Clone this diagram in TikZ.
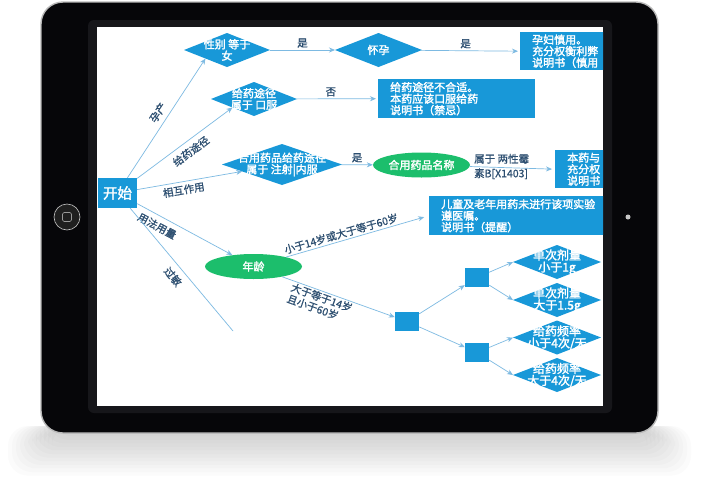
\documentclass[tikz,border=0pt]{standalone}
\usepackage{fontspec}
\setmainfont{Noto Sans CJK SC}
\newfontfamily\cjkbold[FakeBold=2]{Noto Sans CJK SC}
\newfontfamily\cjkmed[FakeBold=0.8]{Noto Sans CJK SC}
\usetikzlibrary{shapes.geometric,arrows.meta}
\definecolor{fblue}{RGB}{24,152,216}
\definecolor{fgreen}{RGB}{28,190,108}
\definecolor{fline}{RGB}{125,186,226}
\definecolor{flabel}{RGB}{44,78,112}
\definecolor{bezel}{RGB}{6,6,9}
\definecolor{bezelin}{RGB}{22,22,26}
\begin{document}
\begin{tikzpicture}[x=1pt,y=-1pt,
  dia/.style={diamond, fill=fblue, inner sep=0pt, outer sep=0pt},
  sbox/.style={rectangle, fill=fblue, text=white, inner sep=0pt},
  sqbox/.style={rectangle, fill=fblue, minimum width=24pt, minimum height=19pt, inner sep=0pt},
  oval/.style={ellipse, fill=fgreen, text=white, inner sep=0pt, minimum width=97pt, minimum height=25pt, font=\cjkbold\fontsize{11}{12}\selectfont},
  wtext/.style={text=white, align=center, font=\cjkbold\fontsize{11}{11.5}\selectfont, inner sep=0pt},
  wtextb/.style={wtext, font=\cjkbold\fontsize{12}{12}\selectfont},
  infobox/.style={rectangle, fill=fblue, text=white, align=left, anchor=north west, inner xsep=12pt, inner ysep=0pt, font=\cjkbold\fontsize{11}{11.5}\selectfont},
  lbl/.style={text=flabel, font=\cjkmed\fontsize{10.5}{12}\selectfont, inner sep=1pt},
  conn/.style={draw=fline, line width=0.7pt},
  arr/.style={conn, -{Stealth[length=6pt,width=5pt]}},
]
\useasboundingbox (0,0) rectangle (710,488);
% shadow
\foreach \i in {0,...,11}{
  \fill[black,opacity=0.016,rounded corners=20pt] ({52-4*\i},426) rectangle ({647+4*\i},{436+3.6*\i});
}
% tablet body
\filldraw[fill=bezel, draw=gray!55, line width=1.4pt, rounded corners=22pt] (41,2) rectangle (658,433);
\fill[bezelin, rounded corners=6pt] (88,20) rectangle (612,413);
\fill[white] (97,27) rectangle (603,406);
% home button
\fill[black!88] (67,217) circle (13);
\draw[gray!45, line width=0.6pt] (67,217) circle (13);
\draw[gray!80, line width=0.6pt, rounded corners=1.5pt] (62.5,212.5) rectangle (71.5,221.5);
% camera
\fill[gray!45] (628,217) circle (2.5);

\begin{scope}
\clip (97,27) rectangle (603,406);
\node[sbox, minimum width=39pt, minimum height=30pt, font=\cjkbold\fontsize{14.5}{15}\selectfont] (start) at (117.5,193) {开始};
\node[dia, minimum width=86pt, minimum height=34pt, label={[wtext]center:{性别 等于\\女}}] (sex) at (227,50) {};
\node[dia, minimum width=87pt, minimum height=34pt, label={[wtext]center:怀孕}] (preg) at (378.5,50) {};
\node[infobox, text width=110pt, minimum height=38pt] (b1) at (520,32) {孕妇慎用。\\充分权衡利弊\\说明书（慎用};
\node[dia, minimum width=86pt, minimum height=34pt, label={[wtext]center:{给药途径\\属于 口服}}] (oral) at (254,99) {};
\node[infobox, text width=133pt, minimum height=39pt] (b2) at (378,79) {给药途径不合适。\\本药应该口服给药\\说明书（禁忌）};
\node[dia, minimum width=120pt, minimum height=41pt, label={[wtext]center:{合用药品给药途径\\属于 注射|内服}}] (inter) at (282,164.5) {};
\node[oval] (name) at (421.5,165) {合用药品名称};
\node[infobox, text width=110pt, minimum height=38pt] (b3) at (555,150) {本药与\\充分权\\说明书};
\node[infobox, text width=200pt, minimum height=39pt] (kid) at (429,196) {儿童及老年用药未进行该项实验\\遵医嘱。\\说明书（提醒）};
\node[oval] (age) at (253.5,266.5) {年龄};
\node[sqbox] (sq1) at (407,321.5) {};
\node[sqbox] (sq2) at (477,277.5) {};
\node[sqbox] (sq3) at (477,352.5) {};
\node[dia, minimum width=88pt, minimum height=34pt, label={[wtextb]center:{单次剂量\\小于1g}}] (dA) at (557,262) {};
\node[dia, minimum width=88pt, minimum height=34pt, label={[wtextb]center:{单次剂量\\大于1.5g}}] (dB) at (557,300) {};
\node[dia, minimum width=88pt, minimum height=34pt, label={[wtextb]center:{给药频率\\小于4次/天}}] (dC) at (557,337.5) {};
\node[dia, minimum width=88pt, minimum height=34pt, label={[wtextb]center:{给药频率\\大于4次/天}}] (dD) at (557,375) {};
\coordinate (allergyEnd) at (233,331);

\draw[arr] (start) -- node[lbl, sloped, above=4pt] (t1) {孕产} (sex.south west);
\draw[arr] (start) -- node[lbl, sloped, below=4pt] (t2) {给药途径} (oral.south west);
\draw[arr] (start) -- node[lbl, sloped, below=2pt, pos=0.43] (t3) {相互作用} (inter);
\draw[arr] (start) -- node[lbl, sloped, below=4pt, pos=0.26] (t4) {用法用量} (age);
\draw[conn] (start) -- node[lbl, sloped, below=5pt] (t5) {过敏} (allergyEnd);
\draw[arr] (sex) -- node[lbl, above=1pt] (y1) {是} (preg);
\draw[arr, shorten >=2pt] (preg) -- node[lbl, above=1pt, pos=0.45] (y2) {是} (b1.west);
\draw[arr, shorten >=2pt] (oral) -- node[lbl, above=1pt, pos=0.42] (n1) {否} (b2.west);
\draw[arr] (inter) -- node[lbl, above=1pt] (y3) {是} (name);
\draw[arr, shorten >=3pt] (name) -- node[lbl, anchor=west, align=left, pos=0, xshift=3pt, font=\cjkmed\fontsize{10.5}{14.5}\selectfont] (amph) {属于 两性霉\\素B[X1403]} (b3.west);
\draw[arr, shorten >=5pt] (age) -- node[lbl, sloped, above=1pt, pos=0.4] (t6) {小于14岁或大于等于60岁} (kid.west);
\draw[arr] (age) -- node[lbl, sloped, below=0pt, pos=0.37, align=left] (t7) {大于等于14岁\\且小于60岁} (sq1);
\draw[arr] (sq1) -- (sq2);
\draw[arr] (sq1) -- (sq3);
\draw[arr] (sq2) -- (dA.west);
\draw[arr] (sq2) -- (dB.west);
\draw[arr] (sq3) -- (dC.west);
\draw[arr] (sq3) -- (dD.west);
\end{scope}
\end{tikzpicture}
\end{document}
